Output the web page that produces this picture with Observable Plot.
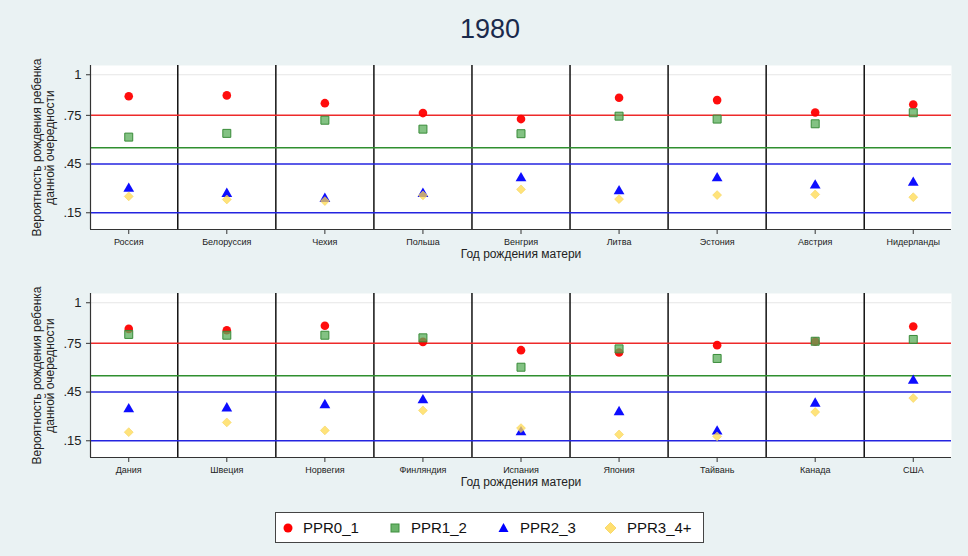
<!DOCTYPE html>
<html>
<head>
<meta charset="utf-8">
<script src="https://cdn.jsdelivr.net/npm/d3@7"></script>
<script src="https://cdn.jsdelivr.net/npm/@observablehq/plot@0.6"></script>
<style>
  html, body { margin: 0; padding: 0; }
  body { width: 968px; height: 556px; background: #eaf2f3; position: relative; overflow: hidden;
         font-family: "Liberation Sans", Arial, sans-serif; }
  #title { position: absolute; left: 0; width: 980px; top: 14px; text-align: center; font-size: 27px; color: #1a2a4c; }
  .panel { position: absolute; left: 0; }
  #legend { position: absolute; left: 275px; top: 512px; width: 429px; height: 31px; box-sizing: border-box;
            background: #fff; border: 1px solid #444; }
  .sym { position: absolute; top: 0; }
  .lab { position: absolute; top: 6px; font-size: 15px; color: #111; line-height: 17px; }
</style>
</head>
<body>
<div id="title">1980</div>
<div id="p1" class="panel" style="top:50px"></div>
<div id="p2" class="panel" style="top:278px"></div>
<div id="legend">
  <svg class="sym" style="left:6px" width="12" height="29"><circle cx="6" cy="15" r="4.5" fill="#ff0000"/></svg>
  <span class="lab" style="left:27px">PPR0_1</span>
  <svg class="sym" style="left:113px" width="12" height="29"><rect x="2" y="11" width="8" height="8" fill="#6ab46a" stroke="#3f8f3f" stroke-width="1"/></svg>
  <span class="lab" style="left:135px">PPR1_2</span>
  <svg class="sym" style="left:221px" width="13" height="29"><path d="M6.5,10 L11.5,19 L1.5,19 Z" fill="#0000ff"/></svg>
  <span class="lab" style="left:244px">PPR2_3</span>
  <svg class="sym" style="left:327px" width="15" height="29"><path d="M7.5,9.5 L13,15 L7.5,20.5 L2,15 Z" fill="#ffdf70" stroke="#f5d35a" stroke-width="0.8"/></svg>
  <span class="lab" style="left:351px">PPR3_4+</span>
</div>
<script>
// ---- data ----
const countriesTop = ["Россия","Белоруссия","Чехия","Польша","Венгрия","Литва","Эстония","Австрия","Нидерланды"];
const countriesBottom = ["Дания","Швеция","Норвегия","Финляндия","Испания","Япония","Тайвань","Канада","США"];
const seriesNames = ["PPR0_1","PPR1_2","PPR2_3","PPR3_4+"];

const ppr01Top = [0.868,0.873,0.825,0.764,0.727,0.858,0.844,0.768,0.817];
const ppr12Top = [0.616,0.639,0.720,0.665,0.637,0.745,0.727,0.698,0.766];
const ppr23Top = [0.298,0.267,0.236,0.267,0.363,0.283,0.363,0.318,0.335];
const ppr34Top = [0.251,0.232,0.222,0.257,0.294,0.234,0.259,0.263,0.246];

const ppr01Bottom = [0.839,0.831,0.858,0.759,0.708,0.694,0.739,0.761,0.854];
const ppr12Bottom = [0.805,0.800,0.800,0.784,0.603,0.716,0.657,0.763,0.774];
const ppr23Bottom = [0.345,0.350,0.370,0.400,0.203,0.327,0.208,0.379,0.520];
const ppr34Bottom = [0.203,0.263,0.214,0.337,0.228,0.189,0.177,0.327,0.413];

const yTicks = [0.15, 0.45, 0.75, 1];
const refValues = [0.75, 0.55, 0.45, 0.15];
const refColors = ["#ee2a2a", "#2f8f2f", "#2424e0", "#2424e0"];

const yTitle = "Вероятность рождения ребенка\nданной очередности";
const xTitle = "Год рождения матери";

function rows(countries, values) {
  return countries.map((c, i) => ({country: c, idx: i + 1, value: values[i]}));
}

function panel(countries, s01, s12, s23, s34) {
  const xDom = [0.61, countries.length + 0.39];
  const yDom = [0.047, 1.057];
  const seps = d3.range(1.5, countries.length, 1);
  const refs = refValues.map((v, i) => ({v, c: refColors[i]}));
  return Plot.plot({
    width: 968,
    height: 215,
    marginLeft: 90,
    marginRight: 17,
    marginTop: 15,
    marginBottom: 36,
    style: {fontFamily: "'Liberation Sans', Arial, sans-serif", background: "transparent", color: "#222", overflow: "visible"},
    x: {type: "linear", domain: xDom},
    y: {type: "linear", domain: yDom},
    marks: [
      Plot.frame({fill: "white", stroke: null}),
      Plot.ruleY([1], {stroke: "#e6e6e6", strokeWidth: 1}),
      Plot.ruleX(seps, {stroke: "#111", strokeWidth: 1.5}),
      Plot.ruleY(refs, {y: "v", stroke: "c", strokeWidth: 1.5}),
      Plot.ruleX([xDom[0]], {stroke: "#333", strokeWidth: 1.2}),
      Plot.ruleY([yDom[0]], {stroke: "#333", strokeWidth: 1.2}),
      Plot.axisY({ticks: yTicks, tickFormat: d => d === 1 ? "1" : d3.format(".2f")(d).replace(/^0/, ""),
                  tickSize: 4, tickPadding: 5, fontSize: 13, label: null, stroke: "#333"}),
      Plot.axisX({ticks: d3.range(1, countries.length + 1), tickFormat: i => countries[i - 1],
                  tickSize: 5, tickPadding: 4, fontSize: 9, label: null, stroke: "#333"}),
      Plot.text([yTitle], {frameAnchor: "left", dx: -47, rotate: -90, fontSize: 12, lineHeight: 1.1,
                           textAnchor: "middle", fill: "#222"}),
      Plot.text([xTitle], {frameAnchor: "bottom", dy: 25, fontSize: 12, lineAnchor: "middle", fill: "#222"}),
      Plot.dot(rows(countries, s01), {x: "idx", y: "value", symbol: "circle", r: 4.3, fill: "#ff0000", fillOpacity: 0.95}),
      Plot.dot(rows(countries, s12), {x: "idx", y: "value", symbol: "square", r: 4.5, fill: "#5aad5a", fillOpacity: 0.75, stroke: "#3a8c3a", strokeWidth: 1}),
      Plot.dot(rows(countries, s23), {x: "idx", y: "value", symbol: "triangle", r: 4, fill: "#0000ff", fillOpacity: 0.95}),
      Plot.dot(rows(countries, s34), {x: "idx", y: "value", symbol: "diamond2", r: 4, fill: "#ffd94d", fillOpacity: 0.75, stroke: "#f5d35a", strokeWidth: 0.6})
    ]
  });
}

document.getElementById("p1").appendChild(panel(countriesTop, ppr01Top, ppr12Top, ppr23Top, ppr34Top));
document.getElementById("p2").appendChild(panel(countriesBottom, ppr01Bottom, ppr12Bottom, ppr23Bottom, ppr34Bottom));
</script>
</body>
</html>
